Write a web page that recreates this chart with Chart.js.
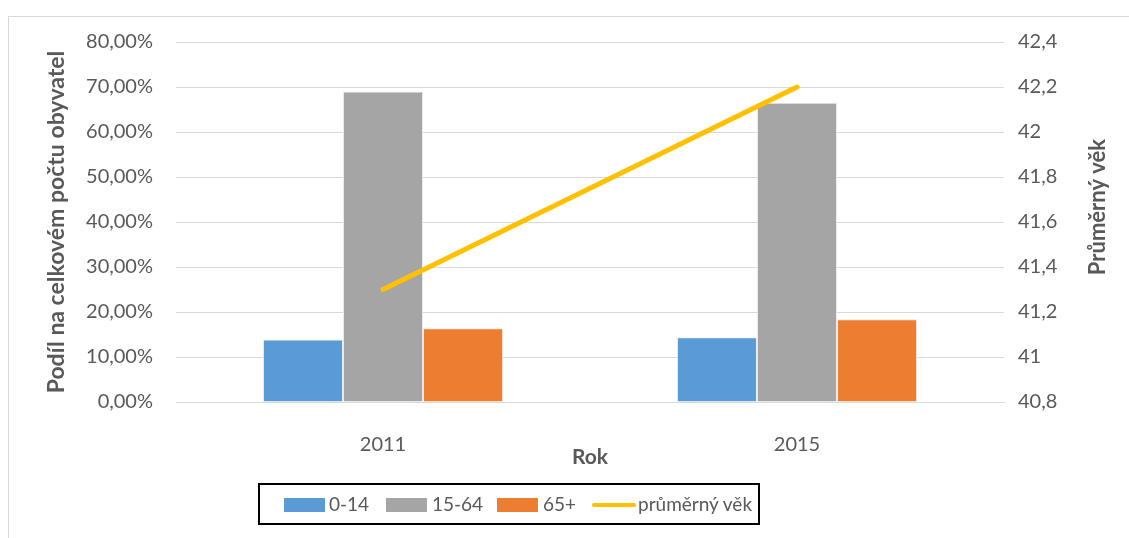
<!DOCTYPE html>
<html>
<head>
<meta charset="utf-8">
<script src="https://cdn.jsdelivr.net/npm/chart.js@4/dist/chart.umd.min.js"></script>
<style>
	body { margin: 0; background: #fff; font-family: Lato, sans-serif; }
	#wrap { position: relative; width: 1129px; height: 538px; }
	#frame { position: absolute; left: 8px; top: 16px; width: 1130px; height: 530px;
		border-left: 1px solid #d9d9d9; border-top: 1px solid #d9d9d9; }
	#legend { position: absolute; left: 258px; top: 483px; width: 498px; height: 38px;
		border: 2px solid #000; box-sizing: content-box; }
	.item { position: absolute; top: 0; height: 38px; line-height: 38px; font-size: 19px; color: #595959; }
	.sw { position: absolute; top: 13px; width: 41px; height: 14px; }
	.ln { position: absolute; top: 18px; width: 44px; height: 4px; border-radius: 2px; }
</style>
</head>
<body>
<div id="wrap">
	<div id="frame"></div>
	<canvas id="c" width="1129" height="538"></canvas>
	<div id="legend"></div>
</div>
<script>
let years = ['2011', '2015']
let kids = [13.9, 14.4]
let adults = [69.0, 66.5]
let seniors = [16.4, 18.4]
let avgAge = [41.3, 42.2]
let seriesNames = ['0-14', '15-64', '65+', 'průměrný věk']
let colors = ['#5B9BD5', '#A5A5A5', '#ED7D31', '#FFC000']

let tickFont = { family: 'Lato', size: 20 }
let grey = '#595959'

// right axis title reads bottom-up, draw it by hand
let rightTitle = {
	id: 'rightTitle',
	afterDraw: chart => {
		let ctx = chart.ctx
		ctx.save()
		ctx.translate(1098, 207)
		ctx.rotate(-Math.PI / 2)
		ctx.font = 'bold 22px Lato'
		ctx.fillStyle = grey
		ctx.textAlign = 'center'
		ctx.textBaseline = 'middle'
		ctx.fillText('Průměrný věk', 0, 0)
		ctx.restore()
	}
}

new Chart(document.getElementById('c'), {
	data: {
		labels: years,
		datasets: [
			{ type: 'line', label: seriesNames[3], data: avgAge, yAxisID: 'y2', order: 0,
				borderColor: colors[3], backgroundColor: colors[3], borderWidth: 5,
				borderCapStyle: 'round', pointRadius: 0 },
			{ type: 'bar', label: seriesNames[0], data: kids, order: 1,
				backgroundColor: colors[0], borderColor: '#e8eef6', borderWidth: 1 },
			{ type: 'bar', label: seriesNames[1], data: adults, order: 1,
				backgroundColor: colors[1], borderColor: '#ececec', borderWidth: 1 },
			{ type: 'bar', label: seriesNames[2], data: seniors, order: 1,
				backgroundColor: colors[2], borderColor: '#f6e6dc', borderWidth: 1 }
		]
	},
	options: {
		responsive: false,
		animation: false,
		events: [],
		layout: { padding: { left: 8, right: 0, top: 42, bottom: 0 } },
		datasets: { bar: { categoryPercentage: 0.58, barPercentage: 1 } },
		plugins: { legend: { display: false }, tooltip: { enabled: false } },
		scales: {
			x: {
				grid: { display: false },
				border: { color: '#d9d9d9' },
				ticks: { font: tickFont, color: grey, padding: 23 },
				title: { display: true, text: 'Rok', color: grey,
					font: { family: 'Lato', size: 21, weight: 'bold' }, padding: { top: 0, bottom: 68 } },
				afterFit: s => { s.height = 136 }
			},
			y: {
				position: 'left', min: 0, max: 80,
				grid: { color: '#d9d9d9', drawTicks: false },
				border: { display: false },
				ticks: { stepSize: 10, font: tickFont, color: grey, padding: 23,
					callback: v => v.toFixed(2).replace('.', ',') + '%' },
				title: { display: true, text: 'Podíl na celkovém počtu obyvatel', color: grey,
					font: { family: 'Lato', size: 23, weight: 'bold' }, padding: { top: 35, bottom: 0 } },
				afterFit: s => { s.width = 168 }
			},
			y2: {
				position: 'right', min: 40.8, max: 42.4,
				grid: { display: false, drawTicks: false },
				border: { display: false },
				ticks: { stepSize: 0.2, font: tickFont, color: grey, padding: 14,
					callback: v => String(Number(v.toFixed(1))).replace('.', ',') },
				afterFit: s => { s.width = 125 }
			}
		}
	},
	plugins: [rightTitle]
})

// legend
let legendPos = [[24, 69], [126, 172], [237, 283], [332, 378]]
let leg = document.getElementById('legend')
seriesNames.forEach((n, i) => {
	let it = document.createElement('div')
	it.className = 'item'
	it.style.left = legendPos[i][0] + 'px'
	it.style.width = '200px'
	let sw = document.createElement('span')
	sw.className = i == 3 ? 'ln' : 'sw'
	sw.style.left = '0px'
	sw.style.background = colors[i]
	let tx = document.createElement('span')
	tx.style.position = 'absolute'
	tx.style.left = (legendPos[i][1] - legendPos[i][0]) + 'px'
	tx.textContent = n
	it.appendChild(sw)
	it.appendChild(tx)
	leg.appendChild(it)
})
</script>
</body>
</html>
